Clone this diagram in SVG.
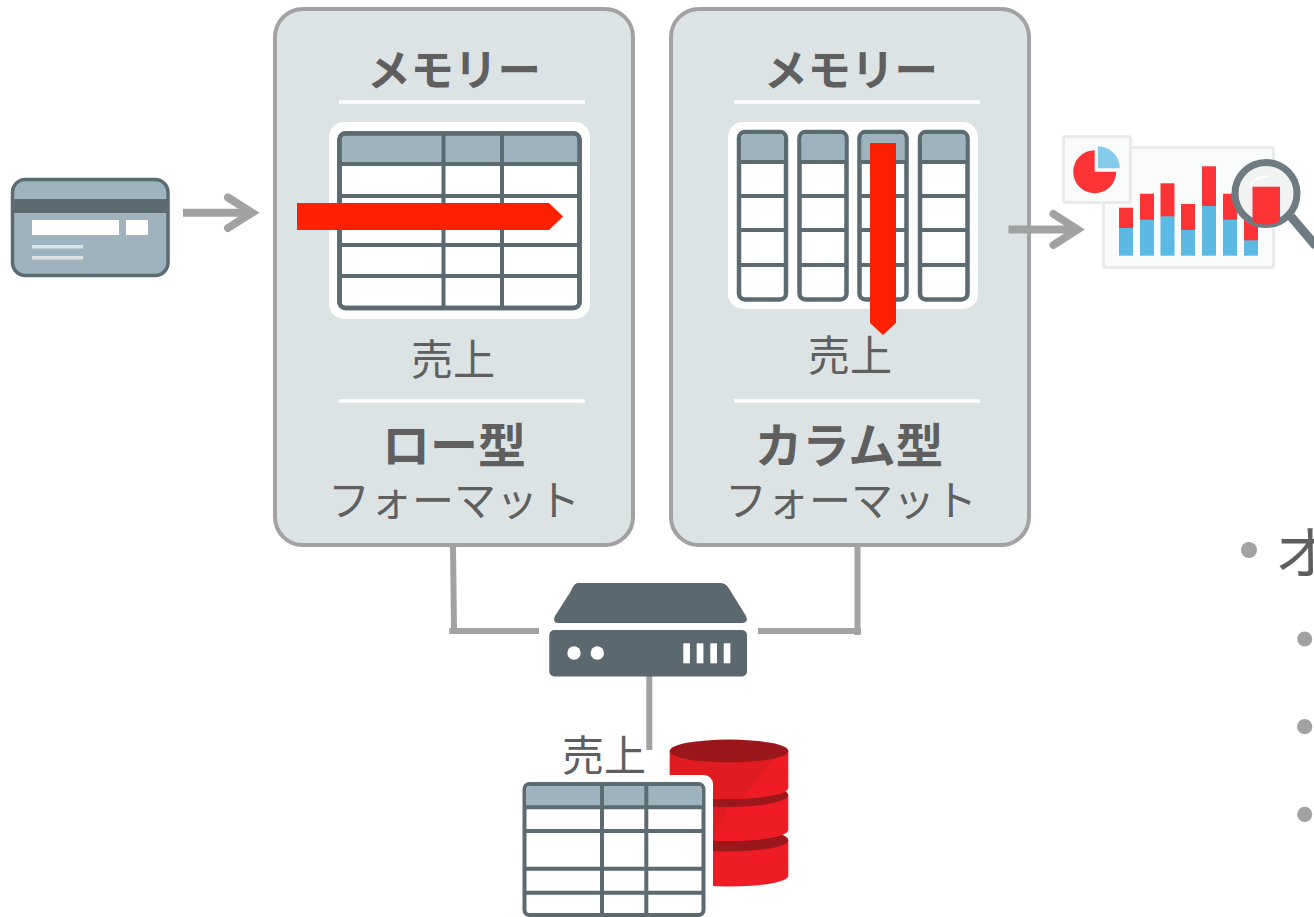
<svg xmlns="http://www.w3.org/2000/svg" width="1314" height="917" viewBox="0 0 1314 917">
<style>
text{font-family:"Noto Sans CJK JP","Noto Sans CJK SC",sans-serif;fill:#5f5f5f;text-anchor:middle;font-weight:400}
text.b{font-weight:700}
.panel{fill:#dce3e5;stroke:#a2a2a2;stroke-width:4}
.sep{stroke:#fff;stroke-width:3.5}
.tb{fill:#fff;stroke:#5a6b72;stroke-width:4.500}
.ln{fill:none;stroke:#5a6b72;stroke-width:4}
.hd{fill:#9fb3be}
.con{fill:none;stroke:#a2a2a2;stroke-width:6}
.arr{fill:none;stroke:#a2a2a2;stroke-width:8}
.head{fill:none;stroke:#a2a2a2;stroke-width:8;stroke-linecap:round;stroke-linejoin:miter}
.srv{fill:#59696f}
.red{fill:#fe3336}
.blue{fill:#5cb9e3}
.bul{fill:#a2a2a2}
.seg{fill:#ef1c25}
.cap{fill:#9c171c}
.shade{fill:#e01b22}
</style>
<defs>
<clipPath id="lens"><circle cx="1266" cy="193.5" r="31"/></clipPath>
<clipPath id="seg1"><path d="M669.700 751V788A59.300 11 0 0 0 788.300 788V751Z"/></clipPath>
<clipPath id="seg2"><path d="M669.700 795V830A59.300 11 0 0 0 788.300 830V795Z"/></clipPath>
</defs>
<g id="panel-row">
<rect class="panel" x="275" y="9" width="358" height="536" rx="28"/>
<line class="sep" x1="339" y1="102" x2="585" y2="102"/>
<line class="sep" x1="339" y1="401" x2="585" y2="401"/>
<text class="b" x="454" y="86" font-size="43.500">メモリー</text>
<text x="453" y="375" font-size="42">売上</text>
<text class="b" x="454" y="463" font-size="48">ロー型</text>
<text x="454" y="516" font-size="42">フォーマット</text>
</g>
<g id="panel-col">
<rect class="panel" x="671" y="9" width="358" height="536" rx="28"/>
<line class="sep" x1="734" y1="102" x2="980" y2="102"/>
<line class="sep" x1="734" y1="401" x2="980" y2="401"/>
<text class="b" x="851" y="86" font-size="43.500">メモリー</text>
<text x="850" y="371" font-size="42">売上</text>
<text class="b" x="849" y="463" font-size="47.500">カラム型</text>
<text x="851" y="516" font-size="42">フォーマット</text>
</g>
<g id="row-table">
<rect x="329" y="122" width="261" height="197" rx="15" fill="#fff"/>
<rect class="tb" x="339.500" y="133.500" width="240" height="174.500" rx="6"/>
<path class="hd" d="M341.500 140a5 5 0 0 1 5-5H572.500a5 5 0 0 1 5 5V164H341.500Z"/>
<path class="ln" d="M339 164H580M339 196H580M339 245H580M339 276H580M443.500 133V309M502 133V309"/>
<rect x="339.500" y="133.500" width="240" height="174.500" rx="6" fill="none" stroke="#5a6b72" stroke-width="4.500"/>
<polygon points="297,203 549,203 563,216.500 549,230 297,230" fill="#ff2000"/>
</g>
<g id="col-table">
<rect x="728" y="122" width="250" height="187" rx="15" fill="#fff"/>
<g id="col1"><rect class="tb" x="739" y="132" width="47" height="167.500" rx="6"/><path class="hd" d="M741 139a5 5 0 0 1 5-5H779a5 5 0 0 1 5 5V162H741Z"/><path class="ln" d="M738 162H787M738 196H787M738 230H787M738 265H787"/></g>
<g id="col2"><rect class="tb" x="799.500" y="132" width="47" height="167.500" rx="6"/><path class="hd" d="M801.500 139a5 5 0 0 1 5-5H839.500a5 5 0 0 1 5 5V162H801.500Z"/><path class="ln" d="M798.500 162H847.500M798.500 196H847.500M798.500 230H847.500M798.500 265H847.500"/></g>
<g id="col3"><rect class="tb" x="859.500" y="132" width="47" height="167.500" rx="6"/><path class="hd" d="M861.500 139a5 5 0 0 1 5-5H899.500a5 5 0 0 1 5 5V162H861.500Z"/><path class="ln" d="M858.500 162H907.500M858.500 196H907.500M858.500 230H907.500M858.500 265H907.500"/></g>
<g id="col4"><rect class="tb" x="920" y="132" width="47.500" height="167.500" rx="6"/><path class="hd" d="M922 139a5 5 0 0 1 5-5H960.500a5 5 0 0 1 5 5V162H922Z"/><path class="ln" d="M919 162H968.500M919 196H968.500M919 230H968.500M919 265H968.500"/></g>
<polygon points="870,143 896,143 896,323 883,335 870,323" fill="#ff2000"/>
</g>
<g id="card">
<rect x="12.500" y="179.500" width="155.500" height="96" rx="13" fill="#9fb3be" stroke="#5a6b72" stroke-width="3.500"/>
<rect x="13" y="199" width="155" height="14" fill="#5a6b72"/>
<rect x="32" y="220" width="87" height="15" fill="#fff"/>
<rect x="126" y="220" width="22" height="15" fill="#fff"/>
<rect x="32" y="245" width="51" height="3.500" fill="#dce3e5"/>
<rect x="32" y="256" width="51" height="3.500" fill="#dce3e5"/>
</g>
<g id="chart">
<rect x="1103.500" y="147.500" width="170" height="120" fill="#fafbfb" stroke="#e9ebeb" stroke-width="3" rx="2"/>
<g id="bars">
<rect class="red" x="1119" y="207.700" width="14" height="21"/><rect class="blue" x="1119" y="228" width="14" height="27.700"/>
<rect class="red" x="1140" y="193.700" width="14" height="27"/><rect class="blue" x="1140" y="219.700" width="14" height="36"/>
<rect class="red" x="1160.500" y="183.300" width="14" height="34"/><rect class="blue" x="1160.500" y="216.300" width="14" height="39.400"/>
<rect class="red" x="1181" y="204" width="14" height="27"/><rect class="blue" x="1181" y="230" width="14" height="25.700"/>
<rect class="red" x="1202" y="166.300" width="14" height="40.700"/><rect class="blue" x="1202" y="206" width="14" height="49.700"/>
<rect class="red" x="1223" y="193.700" width="14" height="27"/><rect class="blue" x="1223" y="219.700" width="14" height="36"/>
<rect class="red" x="1244" y="205" width="14" height="36"/><rect class="blue" x="1244" y="240.300" width="14" height="15.400"/>
</g>
<rect x="1063.500" y="136.500" width="67" height="66" fill="#fafbfb" stroke="#e9ebeb" stroke-width="3" rx="2"/>
<path class="red" d="M1094.700 171.700V150.200A21.500 21.500 0 1 0 1116.200 171.700Z"/>
<path d="M1097.800 168.300V146.300A22 22 0 0 1 1119.800 168.300Z" fill="#85cbea"/>
<line x1="1291" y1="216.700" x2="1316" y2="246" stroke="#6d7b82" stroke-width="9"/>
<circle cx="1266" cy="193.500" r="31" fill="#f1f2f2" stroke="#6d7b82" stroke-width="7"/>
<rect class="red" x="1252.500" y="186.700" width="27.500" height="40" clip-path="url(#lens)"/>
<path d="M1248 188Q1253 177 1268 176" fill="none" stroke="#fff" stroke-width="2"/>
</g>
<g id="connectors">
<path class="con" d="M453 545L454 631M449.300 631H539M857.500 545V635M758 631H861M649.300 676V750"/>
<path class="arr" d="M183 212.700H248"/>
<path class="head" d="M228 197.500L252 212.700L228 228"/>
<path class="arr" d="M1008.500 229.500H1074"/>
<path class="head" d="M1053.500 214L1077.500 229.500L1053.500 245"/>
</g>
<g id="server">
<path class="srv" d="M578 583H720Q725 583 728 587L746 616Q749 623 742 623H558Q552 623 555 616L571 591Q574 583 578 583Z"/>
<rect class="srv" x="549.300" y="630" width="197.700" height="46.500" rx="5"/>
<circle cx="574" cy="653" r="6.700" fill="#fff"/>
<circle cx="597.300" cy="653" r="6.700" fill="#fff"/>
<rect x="683.300" y="643.300" width="6.700" height="20" fill="#fff"/>
<rect x="696.700" y="643.300" width="6.700" height="20" fill="#fff"/>
<rect x="710.300" y="643.300" width="6.700" height="20" fill="#fff"/>
<rect x="723.700" y="643.300" width="6.700" height="20" fill="#fff"/>
</g>
<g id="database">
<path class="seg" d="M669.700 840V876A59.300 10.500 0 0 0 788.300 876V840Z"/>
<ellipse class="cap" cx="729" cy="840" rx="59.300" ry="11.500"/>
<path class="seg" d="M669.700 795V830A59.300 11 0 0 0 788.300 830V795Z"/>
<polygon class="shade" points="669.700,790 738,790 713,840 669.700,846" clip-path="url(#seg2)"/>
<ellipse class="cap" cx="729" cy="795" rx="59.300" ry="12"/>
<path class="seg" d="M669.700 751V788A59.300 11 0 0 0 788.300 788V751Z"/>
<polygon class="shade" points="669.700,745 784,745 737,806 669.700,806" clip-path="url(#seg1)"/>
<ellipse class="cap" cx="729" cy="751" rx="59.300" ry="11.500"/>
</g>
<g id="sales-table">
<rect x="510" y="775" width="203" height="150" rx="9" fill="#fff"/>
<text x="604" y="771" font-size="42">売上</text>
<rect class="tb" x="524.500" y="784" width="179" height="131" rx="5" style="stroke-width:4"/>
<path class="hd" d="M526.500 790a4 4 0 0 1 4-4H697.500a4 4 0 0 1 4 4V807H526.500Z"/>
<path class="ln" d="M524 807.300H704M524 831H704M524 868.700H704M524 892.700H704M602 784V915M646.300 784V915"/>
</g>
<g id="bullets">
<circle class="bul" cx="1249" cy="550" r="8"/>
<text x="1274.500" y="574" font-size="58" style="text-anchor:start">オ</text>
<circle class="bul" cx="1304.700" cy="639" r="7.600"/>
<circle class="bul" cx="1304.700" cy="726.700" r="7.600"/>
<circle class="bul" cx="1304.700" cy="814.300" r="7.600"/>
</g>
</svg>
